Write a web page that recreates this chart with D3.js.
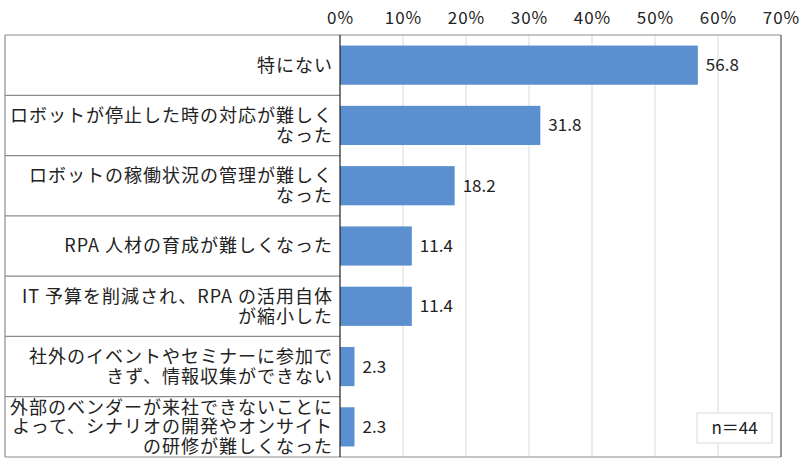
<!DOCTYPE html>
<html>
<head>
<meta charset="utf-8">
<script src="https://cdn.jsdelivr.net/npm/d3@7"></script>
<style>
  body { margin: 0; background: #fff; }
  svg { font-family: "Noto Sans CJK JP", "Noto Sans", sans-serif; }
</style>
</head>
<body>
<svg id="chart" width="800" height="464"></svg>
<script>
var categories = [
  "特にない",
  "ロボットが停止した時の対応が難しく\nなった",
  "ロボットの稼働状況の管理が難しく\nなった",
  "RPA 人材の育成が難しくなった",
  "IT 予算を削減され、RPA の活用自体\nが縮小した",
  "社外のイベントやセミナーに参加で\nきず、情報収集ができない",
  "外部のベンダーが来社できないことに\nよって、シナリオの開発やオンサイト\nの研修が難しくなった"
];
var values = [56.8, 31.8, 18.2, 11.4, 11.4, 2.3, 2.3];
var tickValues = [0, 10, 20, 30, 40, 50, 60, 70];
var note = "n＝44";

var svg = d3.select("#chart");
var left = 5, x0 = 340, right = 781, plotTop = 35, plotBottom = 457;

var x = d3.scaleLinear().domain([0, 70]).range([x0, right]);
var y = d3.scaleBand().domain(categories).range([plotTop, plotBottom])
  .paddingInner(0.35).paddingOuter(0.175);

// gridlines
svg.append("g").selectAll("line")
  .data(tickValues.slice(1, -1))
  .enter().append("line")
  .attr("x1", function(d) { return x(d); })
  .attr("x2", function(d) { return x(d); })
  .attr("y1", plotTop).attr("y2", plotBottom)
  .attr("stroke", "#d9d9d9").attr("stroke-width", 1);

// tick labels
var axis = d3.axisTop(x).tickValues(tickValues)
  .tickFormat(function(d) { return d + "%"; }).tickSize(0).tickPadding(0);
var ax = svg.append("g").attr("transform", "translate(0,24)").call(axis);
ax.select(".domain").remove();
ax.selectAll("text").attr("font-size", 17).attr("fill", "#222")
  .attr("letter-spacing", "1px")
  .attr("font-family", "\"Noto Sans CJK JP\", sans-serif");

// row separators of label column
var step = y.step();
svg.append("g").selectAll("line")
  .data(d3.range(categories.length + 1))
  .enter().append("line")
  .attr("x1", left).attr("x2", x0)
  .attr("y1", function(i) { return plotTop + i * step; })
  .attr("y2", function(i) { return plotTop + i * step; })
  .attr("stroke", "#8c8c8c").attr("stroke-width", 1.2);

// outer frame
svg.append("line").attr("x1", left).attr("x2", left).attr("y1", plotTop).attr("y2", plotBottom)
  .attr("stroke", "#8c8c8c").attr("stroke-width", 1.2);
svg.append("line").attr("x1", x0).attr("x2", right).attr("y1", plotTop).attr("y2", plotTop)
  .attr("stroke", "#8c8c8c").attr("stroke-width", 1.2);
svg.append("line").attr("x1", x0).attr("x2", right).attr("y1", plotBottom).attr("y2", plotBottom)
  .attr("stroke", "#8c8c8c").attr("stroke-width", 1.2);
svg.append("line").attr("x1", right).attr("x2", right).attr("y1", plotTop).attr("y2", plotBottom)
  .attr("stroke", "#555").attr("stroke-width", 1.2);

// bars
svg.append("g").selectAll("rect")
  .data(values)
  .enter().append("rect")
  .attr("x", x(0))
  .attr("y", function(d, i) { return y(categories[i]); })
  .attr("width", function(d) { return x(d) - x(0); })
  .attr("height", y.bandwidth())
  .attr("fill", "#5b8fd0");

// value labels
svg.append("g").selectAll("text")
  .data(values)
  .enter().append("text")
  .attr("x", function(d) { return x(d) + 8; })
  .attr("y", function(d, i) { return y(categories[i]) + y.bandwidth() / 2; })
  .attr("dy", "0.35em")
  .attr("font-size", 17).attr("fill", "#222")
  .text(function(d) { return d.toFixed(1); });

// y axis line
svg.append("line").attr("x1", x0).attr("x2", x0).attr("y1", plotTop).attr("y2", plotBottom)
  .attr("stroke", "#222").attr("stroke-width", 1.2);

// category labels
var lineH = 19.5;
svg.append("g").selectAll("text")
  .data(categories)
  .enter().append("text")
  .attr("text-anchor", "end")
  .attr("font-size", 18).attr("fill", "#222")
  .attr("letter-spacing", "1px")
  .each(function(d) {
    var lines = d.split("\n");
    var cy = y(d) + y.bandwidth() / 2 - (lines.length - 1) * lineH / 2;
    var t = d3.select(this);
    lines.forEach(function(s, k) {
      t.append("tspan").attr("x", 333).attr("y", cy + k * lineH)
        .attr("dy", "0.36em").text(s);
    });
  });

// n box
svg.append("rect").attr("x", 697).attr("y", 413).attr("width", 75).attr("height", 30)
  .attr("fill", "#fff").attr("stroke", "#d9d9d9");
svg.append("text").attr("x", 734.5).attr("y", 428).attr("dy", "0.36em")
  .attr("text-anchor", "middle").attr("font-size", 17).attr("fill", "#222")
  .text(note);
</script>
</body>
</html>
